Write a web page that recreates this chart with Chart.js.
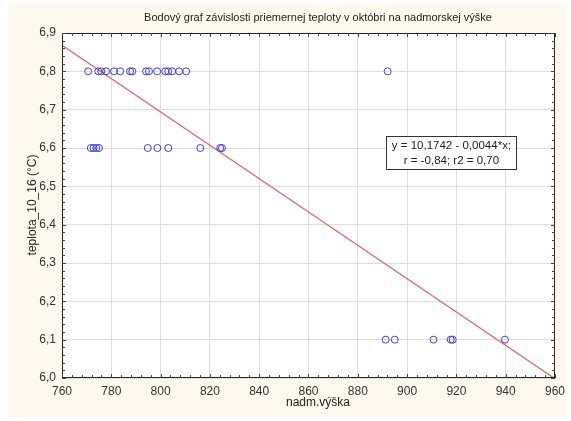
<!DOCTYPE html>
<html>
<head>
<meta charset="utf-8">
<script src="https://cdn.jsdelivr.net/npm/chart.js@4/dist/chart.umd.min.js"></script>
<style>
html,body{margin:0;padding:0;background:#ffffff;}
#wrap{width:571px;height:421px;position:relative;}
</style>
</head>
<body>
<div id="wrap"><canvas id="c" width="571" height="421"></canvas></div>
<script>
// ---- data ----
const altitude = [
  770.6, 774.7, 775.9, 777.9, 781.1, 783.6, 787.6, 788.5, 794.1, 795.3, 798.6, 801.9, 803.1, 804.7, 807.5, 810.4, 892.1,
  771.7, 772.8, 773.9, 775.0, 794.8, 798.7, 803.1, 816.1, 824.2, 824.9,
  891.3, 895.0, 910.7, 917.7, 918.5, 939.7
];
const temperature = [
  6.8, 6.8, 6.8, 6.8, 6.8, 6.8, 6.8, 6.8, 6.8, 6.8, 6.8, 6.8, 6.8, 6.8, 6.8, 6.8, 6.8,
  6.6, 6.6, 6.6, 6.6, 6.6, 6.6, 6.6, 6.6, 6.6, 6.6,
  6.1, 6.1, 6.1, 6.1, 6.1, 6.1
];
const fitIntercept = 10.1742;
const fitSlope = -0.00435;
const xTicks = [760, 780, 800, 820, 840, 860, 880, 900, 920, 940, 960];
const yTicks = [6.0, 6.1, 6.2, 6.3, 6.4, 6.5, 6.6, 6.7, 6.8, 6.9];
const titleText = 'Bodový graf závislosti priemernej teploty v októbri na nadmorskej výške';
const xTitle = 'nadm.výška';
const yTitle = 'teplota_10_16 (°C)';
const statLines = ['y = 10,1742 - 0,0044*x;', 'r = -0,84; r2 = 0,70'];

const points = altitude.map((a, i) => ({x: a, y: temperature[i]}));
const xMin = xTicks[0], xMax = xTicks[xTicks.length - 1];
const linePts = [xMin, xMax].map(x => ({x: x, y: fitIntercept + fitSlope * x}));

const FONT = '"Liberation Sans", Arial, sans-serif';
const comma = v => Number(v).toFixed(1).replace('.', ',');

const decor = {
  id: 'decor',
  beforeDraw(chart) {
    const ctx = chart.ctx, a = chart.chartArea;
    ctx.save();
    ctx.fillStyle = '#fdf9ef';
    ctx.fillRect(8, 5, 558, 413);
    ctx.fillStyle = '#ffffff';
    ctx.fillRect(a.left, a.top, a.right - a.left, a.bottom - a.top);
    ctx.restore();
  },
  afterDraw(chart) {
    const ctx = chart.ctx, a = chart.chartArea;
    const xs = chart.scales.x, ys = chart.scales.y;
    ctx.save();
    // frame
    ctx.strokeStyle = '#222222';
    ctx.lineWidth = 1;
    ctx.strokeRect(Math.round(a.left) + 0.5, Math.round(a.top) + 0.5, Math.round(a.right - a.left) - 1, Math.round(a.bottom - a.top) - 1);
    // minor / major ticks inward
    ctx.strokeStyle = '#444444';
    ctx.beginPath();
    for (let v = xMin; v <= xMax + 1e-9; v += 4) {
      const px = Math.round(xs.getPixelForValue(v)) + 0.5;
      const major = Math.abs((v - xMin) % 20) < 1e-6;
      const len = major ? 4 : 3;
      ctx.moveTo(px, a.bottom); ctx.lineTo(px, a.bottom - len);
      ctx.moveTo(px, a.top); ctx.lineTo(px, a.top + len);
    }
    for (let k = 0; k <= 45; k++) {
      const v = 6.0 + k * 0.02;
      const py = Math.round(ys.getPixelForValue(v)) + 0.5;
      const len = (k % 5 === 0) ? 4 : 3;
      ctx.moveTo(a.left, py); ctx.lineTo(a.left + len, py);
      ctx.moveTo(a.right, py); ctx.lineTo(a.right - len, py);
    }
    ctx.stroke();
    // titles
    ctx.fillStyle = '#222222';
    ctx.textAlign = 'center';
    ctx.textBaseline = 'middle';
    ctx.font = '11px ' + FONT;
    ctx.fillText(titleText, 318, 18);
    ctx.font = '12px ' + FONT;
    ctx.fillText(xTitle, 318, 403);
    ctx.save();
    ctx.translate(33, 205);
    ctx.rotate(-Math.PI / 2);
    ctx.fillText(yTitle, 0, 0);
    ctx.restore();
    // stat box anchored in data coordinates
    const cx = xs.getPixelForValue(918), cy = ys.getPixelForValue(6.587);
    const w = 130, h = 33;
    const bx = Math.round(cx - w / 2) + 0.5, by = Math.round(cy - h / 2) + 0.5;
    ctx.fillStyle = '#ffffff';
    ctx.fillRect(bx, by, w, h);
    ctx.strokeStyle = '#333333';
    ctx.lineWidth = 1;
    ctx.strokeRect(bx, by, w, h);
    ctx.fillStyle = '#222222';
    ctx.font = '11.5px ' + FONT;
    ctx.fillText(statLines[0], cx, cy - 7.5);
    ctx.fillText(statLines[1], cx, cy + 8);
    ctx.restore();
  }
};

new Chart(document.getElementById('c'), {
  type: 'scatter',
  data: {
    datasets: [
      {
        type: 'line',
        data: linePts,
        borderColor: '#e26464',
        borderWidth: 1.3,
        pointRadius: 0,
        fill: false,
        order: 2
      },
      {
        data: points,
        borderColor: '#4040d0',
        backgroundColor: 'rgba(0,0,0,0)',
        borderWidth: 1,
        pointRadius: 3.5,
        pointStyle: 'circle',
        order: 1
      }
    ]
  },
  plugins: [decor],
  options: {
    responsive: false,
    animation: false,
    devicePixelRatio: 1,
    layout: {padding: {left: 0, top: 33, right: 13, bottom: 0}},
    plugins: {legend: {display: false}, tooltip: {enabled: false}, title: {display: false}},
    scales: {
      x: {
        type: 'linear',
        min: xMin, max: xMax,
        afterBuildTicks: s => { s.ticks = xTicks.map(v => ({value: v})); },
        afterFit: s => { s.height = 43; },
        grid: {color: '#dedede', drawTicks: false, lineWidth: 1},
        border: {display: false},
        ticks: {padding: 6, color: '#333333', font: {family: FONT, size: 12}, maxRotation: 0, autoSkip: false, callback: v => String(v)}
      },
      y: {
        type: 'linear',
        min: 6.0, max: 6.9,
        afterBuildTicks: s => { s.ticks = yTicks.map(v => ({value: v})); },
        afterFit: s => { s.width = 62; },
        grid: {color: '#dedede', drawTicks: false, lineWidth: 1},
        border: {display: false},
        ticks: {padding: 6, color: '#333333', font: {family: FONT, size: 12}, autoSkip: false, callback: v => comma(v)}
      }
    }
  }
});
</script>
</body>
</html>
